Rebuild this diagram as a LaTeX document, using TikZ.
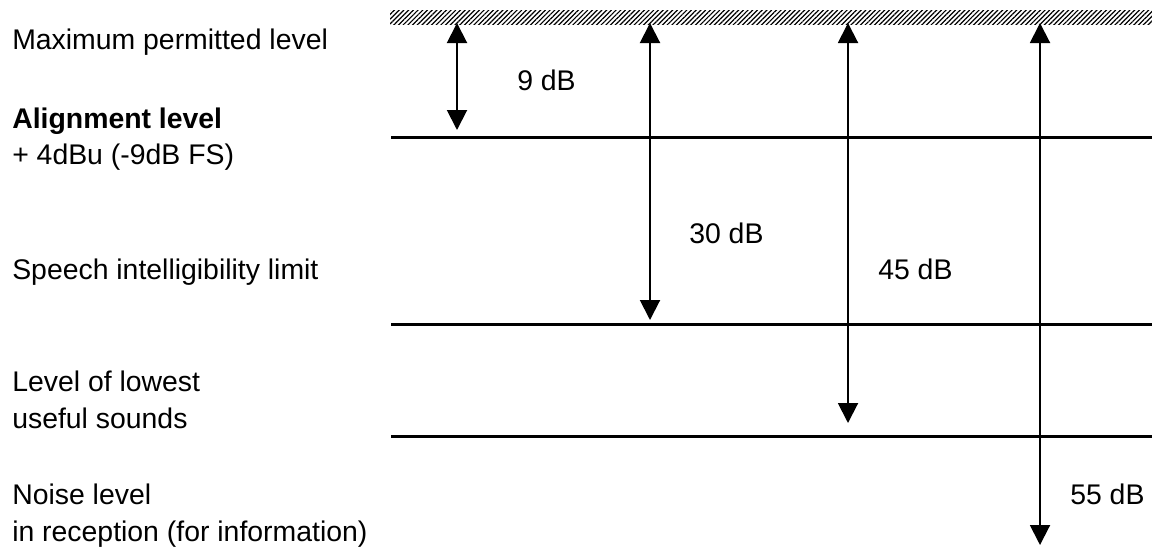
\documentclass[tikz,border=0pt]{standalone}
\usepackage{fontspec}
\setmainfont{Liberation Sans}
\usetikzlibrary{arrows.meta,patterns.meta}
\begin{document}
\begin{tikzpicture}[x=0.75pt,y=-0.75pt,
  lbl/.style={anchor=base west,inner sep=0pt,font=\fontsize{21.3pt}{26pt}\selectfont},
  levelline/.style={line width=2.25pt},
  span/.style={line width=1.5pt,{Triangle[width=15pt,length=15pt]}-{Triangle[width=15pt,length=15pt]}},
  ceiling/.style={pattern={Lines[angle=45,distance=2.5pt,line width=0.9pt]}}]
\useasboundingbox (0,0) rectangle (1152,546);

% hatched ceiling: maximum permitted level
\fill[ceiling] (390,10) rectangle (1152,24);

% reference levels
\draw[levelline] (391,137) -- (1152,137);
\draw[levelline] (391,324) -- (1152,324);
\draw[levelline] (391,436) -- (1152,436);

% level labels
\node[lbl] (maxlvl) at (12,49) {Maximum permitted level};
\node[lbl] (align) at (12,128) {\bfseries Alignment level};
\node[lbl] (alignv) at (12,164) {+ 4dBu (-9dB FS)};
\node[lbl] (speech) at (12,279) {Speech intelligibility limit};
\node[lbl] (lowest1) at (12,391) {Level of lowest};
\node[lbl] (lowest2) at (12,428) {useful sounds};
\node[lbl] (noise1) at (12,504) {Noise level};
\node[lbl] (noise2) at (12,541) {in reception (for information)};

% span end points
\coordinate (a1) at (457,23);  \coordinate (b1) at (457,130);
\coordinate (a2) at (650,23);  \coordinate (b2) at (650,320);
\coordinate (a3) at (848,23);  \coordinate (b3) at (848,423);
\coordinate (a4) at (1040,23); \coordinate (b4) at (1040,545);

\draw[span] (a1) -- (b1);
\draw[span] (a2) -- (b2);
\draw[span] (a3) -- (b3);
\draw[span] (a4) -- (b4);

% span values
\node[lbl] (d9) at (517,90) {9 dB};
\node[lbl] (d30) at (689,243) {30 dB};
\node[lbl] (d45) at (878,279) {45 dB};
\node[lbl] (d55) at (1070,504) {55 dB};
\end{tikzpicture}
\end{document}
